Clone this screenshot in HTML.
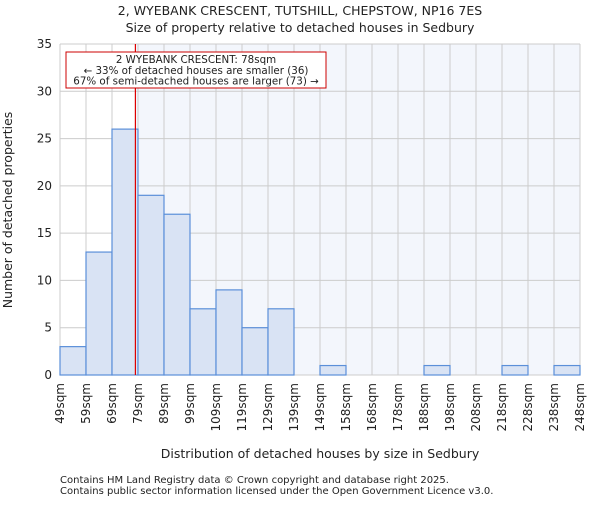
<!DOCTYPE html>
<html><head><meta charset="utf-8"><style>
body{margin:0;background:#fff;font-family:"Liberation Sans","DejaVu Sans",sans-serif}
svg text{font-family:"DejaVu Sans","Liberation Sans",sans-serif;fill:#222}
</style></head><body>
<svg id="chart" width="600" height="500" xmlns="http://www.w3.org/2000/svg">
<text x="300" y="15" text-anchor="middle" font-size="12.5">2, WYEBANK CRESCENT, TUTSHILL, CHEPSTOW, NP16 7ES</text>
<text x="300" y="32" text-anchor="middle" font-size="12.5">Size of property relative to detached houses in Sedbury</text>
<rect x="60" y="44" width="520" height="331" fill="#fff"/>
<rect id="shade" y="44" height="331" fill="#f3f6fc"/>
<g id="grid"></g><g id="bars"></g><g id="axes"></g>
<line id="marker" y1="44" y2="375" stroke="#dd0000" stroke-width="1.2"/>
<rect x="66" y="52" width="260" height="36" fill="#fff" stroke="#cc0000" stroke-width="1"/>
<text x="196" y="63" text-anchor="middle" font-size="10.3">2 WYEBANK CRESCENT: 78sqm</text>
<text x="196" y="74" text-anchor="middle" font-size="10.3">← 33% of detached houses are smaller (36)</text>
<text x="196" y="84.5" text-anchor="middle" font-size="10.3">67% of semi-detached houses are larger (73) →</text>
<text x="320" y="458" text-anchor="middle" font-size="12.5">Distribution of detached houses by size in Sedbury</text>
<text transform="translate(12,210) rotate(-90)" text-anchor="middle" font-size="12.5">Number of detached properties</text>
<text x="60" y="483" font-size="10" fill="#444">Contains HM Land Registry data © Crown copyright and database right 2025.</text>
<text x="60" y="494" font-size="10" fill="#444">Contains public sector information licensed under the Open Government Licence v3.0.</text>
</svg>
<script>
const categories=["49sqm","59sqm","69sqm","79sqm","89sqm","99sqm","109sqm","119sqm","129sqm","139sqm","149sqm","158sqm","168sqm","178sqm","188sqm","198sqm","208sqm","218sqm","228sqm","238sqm","248sqm"];
const counts=[3,13,26,19,17,7,9,5,7,0,1,0,0,0,1,0,0,1,0,1];
const yTicks=[0,5,10,15,20,25,30,35];
const markerValue=78;
const binStart=49, binWidth=10;
const NS="http://www.w3.org/2000/svg";
const X0=60,X1=580,Y0=375,Y1=44,YMAX=35;
const bw=(X1-X0)/counts.length;
const xi=i=>X0+i*bw;
const xv=v=>X0+(v-binStart)/binWidth*bw;
const y=v=>Y0-(v/YMAX)*(Y0-Y1);
function mk(t,a,p){const e=document.createElementNS(NS,t);for(const k in a)e.setAttribute(k,a[k]);p.appendChild(e);return e;}
const g=document.getElementById('grid'),b=document.getElementById('bars'),ax=document.getElementById('axes');
const mx=xv(markerValue);
const sh=document.getElementById('shade');sh.setAttribute('x',mx);sh.setAttribute('width',X1-mx);
const m=document.getElementById('marker');m.setAttribute('x1',mx);m.setAttribute('x2',mx);
yTicks.forEach(t=>{
 const l=mk('line',{x1:X0,x2:X1,y1:y(t),y2:y(t),stroke:'#cccccc','stroke-width':1},g);
 
 
 const tx=mk('text',{x:X0-8,y:y(t)+4,'text-anchor':'end','font-size':12},ax);
 
 
 tx.textContent=t;
});
categories.forEach((c,i)=>{
 const l=mk('line',{x1:xi(i),x2:xi(i),y1:Y1,y2:Y0,stroke:'#cccccc','stroke-width':1},g);
 
 
 const tx=mk('text',{transform:`translate(${xi(i)+4},${Y0+8}) rotate(-90)`,'text-anchor':'end','font-size':12},ax);
 
 
 tx.textContent=c;
});
counts.forEach((v,i)=>{
 if(v<=0)return;
 const r=mk('rect',{x:xi(i),y:y(v),width:bw,height:Y0-y(v),fill:'#d9e3f4',stroke:'#5b8fd9','stroke-width':1.2},b);
 
 
});
</script>
</body></html>
